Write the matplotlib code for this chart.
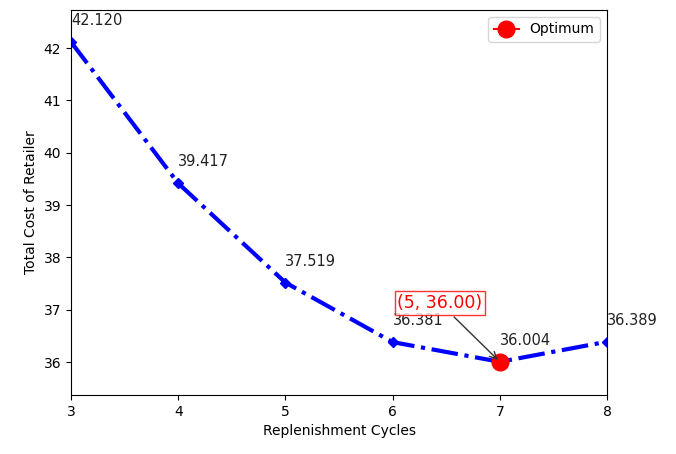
import numpy as np
import matplotlib.pyplot as plt

# data
cycles = [3, 4, 5, 6, 7, 8]
cost = [42.120, 39.417, 37.519, 36.381, 36.004, 36.389]
opt_x = 7
opt_y = 36.004
opt_label = "(5, 36.00)"

plt.rcParams.update({"font.family": "DejaVu Sans", "font.size": 10})

fig = plt.figure(figsize=(6.76, 4.54), dpi=100)
ax = fig.add_axes([0.105, 0.130, 0.793, 0.848])

ax.plot(cycles, cost, "b-.", marker="D", markersize=5, linewidth=3)
ax.plot([opt_x], [opt_y], "ro-", markersize=12, label="Optimum")

for x, y in zip(cycles, cost):
    ax.annotate(f"{y:.3f}", xy=(x, y), xytext=(0, 10), textcoords="offset points",
                ha="left", va="bottom", fontsize=10.5, color="#222222")

ax.annotate(opt_label, xy=(opt_x, opt_y), xytext=(6.44, 37.13),
            ha="center", va="center", fontsize=12.5, color="red",
            bbox=dict(boxstyle="square,pad=0.15", fc="white", ec="red", lw=1, alpha=0.8),
            arrowprops=dict(arrowstyle="->", color="#333333", lw=1))

ax.set_xlim(3, 8)
ax.set_ylim(35.37, 42.73)
ax.set_xticks([3, 4, 5, 6, 7, 8])
ax.set_yticks([36, 37, 38, 39, 40, 41, 42])
ax.set_xlabel("Replenishment Cycles")
ax.set_ylabel("Total Cost of Retailer")
ax.legend(loc="upper right", handlelength=1.8)

fig.savefig("out.png", dpi=100)
